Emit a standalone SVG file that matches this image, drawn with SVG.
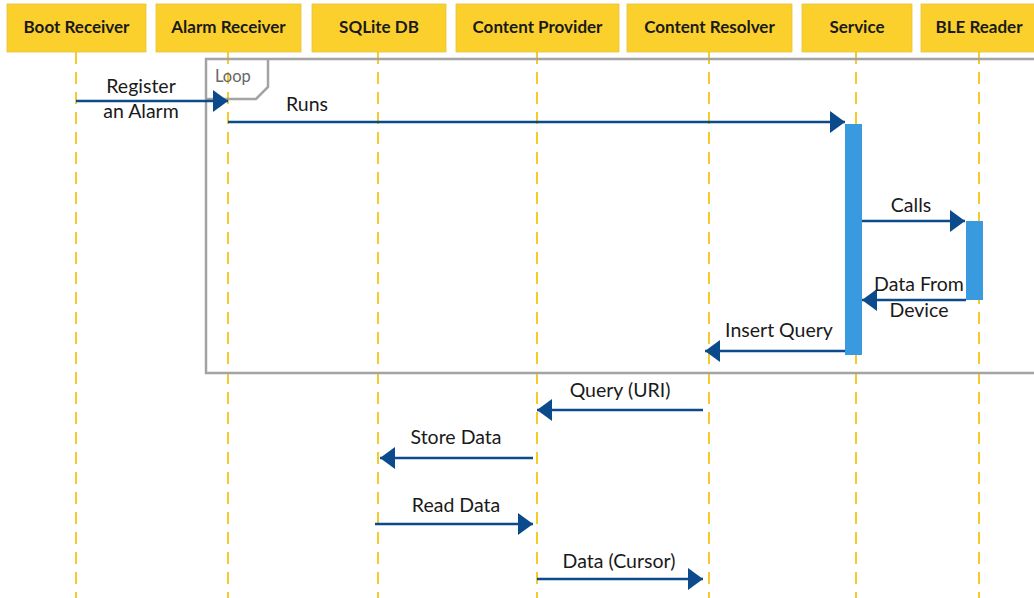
<svg xmlns="http://www.w3.org/2000/svg" width="1034" height="598" viewBox="0 0 1034 598">
<defs>
<style>
.hdr{fill:#FBD02D;stroke:#E6C23A;stroke-width:0.8}
.ht{font-family:Lato,"Liberation Sans",sans-serif;font-weight:bold;font-size:17px;fill:#1a1a1a;text-anchor:middle}
.life{stroke:#F5CA2A;stroke-width:2;stroke-dasharray:12 8;fill:none}
.msg{stroke:#0B4A8B;stroke-width:2.5;fill:none}
.ml{font-family:Lato,"Liberation Sans",sans-serif;font-size:19.5px;fill:#1a1a1a;text-anchor:middle}
.act{fill:#3A9AE0}
.frame{fill:none;stroke:#A3A3A3;stroke-width:2.5}
</style>
<marker id="ah" viewBox="0 0 15 22" refX="15" refY="11" markerWidth="15" markerHeight="22" markerUnits="userSpaceOnUse" orient="auto">
<path d="M0,0 L15,11 L0,22 Z" fill="#0B4A8B"/>
</marker>
</defs>
<rect width="1034" height="598" fill="#ffffff"/>

<g id="lifelines">
<line class="life" x1="76" y1="52" x2="76" y2="598"/>
<line class="life" x1="228" y1="52" x2="228" y2="598"/>
<line class="life" x1="378" y1="52" x2="378" y2="598"/>
<line class="life" x1="537" y1="52" x2="537" y2="598"/>
<line class="life" x1="709" y1="52" x2="709" y2="598"/>
<line class="life" x1="856" y1="52" x2="856" y2="598"/>
<line class="life" x1="979" y1="52" x2="979" y2="598"/>
</g>

<g id="loop">
<rect class="frame" x="206" y="59" width="840" height="314"/>
<path class="frame" d="M206,99 L256,99 L268,87 L268,59"/>
<text x="215" y="82" font-family="Lato,'Liberation Sans',sans-serif" font-size="16.5" fill="#666">Loop</text>
</g>

<g id="n-boot"><rect class="hdr" x="7" y="4" width="139" height="48"/><text class="ht" x="76.5" y="33">Boot Receiver</text></g>
<g id="n-alarm"><rect class="hdr" x="156" y="4" width="145" height="48"/><text class="ht" x="228.5" y="33">Alarm Receiver</text></g>
<g id="n-sqlite"><rect class="hdr" x="312" y="4" width="134" height="48"/><text class="ht" x="379" y="33">SQLite DB</text></g>
<g id="n-cp"><rect class="hdr" x="456" y="4" width="163" height="48"/><text class="ht" x="537.5" y="33">Content Provider</text></g>
<g id="n-cr"><rect class="hdr" x="627" y="4" width="165" height="48"/><text class="ht" x="709.5" y="33">Content Resolver</text></g>
<g id="n-service"><rect class="hdr" x="802" y="4" width="110" height="48"/><text class="ht" x="857" y="33">Service</text></g>
<g id="n-ble"><rect class="hdr" x="921" y="4" width="120" height="48"/><text class="ht" x="979" y="33">BLE Reader</text></g>

<g id="activations">
<rect class="act" x="845" y="124" width="17" height="231"/>
<rect class="act" x="966" y="221" width="17" height="79"/>
</g>

<g id="connectors">
<line class="msg" x1="76" y1="101" x2="228" y2="101" marker-end="url(#ah)"/>
<line class="msg" x1="228" y1="122" x2="845" y2="122" marker-end="url(#ah)"/>
<line class="msg" x1="862" y1="221" x2="965" y2="221" marker-end="url(#ah)"/>
<line class="msg" x1="966" y1="300" x2="862" y2="300" marker-end="url(#ah)"/>
<line class="msg" x1="845" y1="351" x2="705" y2="351" marker-end="url(#ah)"/>
<line class="msg" x1="703" y1="410" x2="537" y2="410" marker-end="url(#ah)"/>
<line class="msg" x1="533" y1="458" x2="380" y2="458" marker-end="url(#ah)"/>
<line class="msg" x1="375" y1="524" x2="533" y2="524" marker-end="url(#ah)"/>
<line class="msg" x1="537" y1="579" x2="703" y2="579" marker-end="url(#ah)"/>
</g>

<g id="labels">
<text class="ml" x="141" y="93">Register</text>
<text class="ml" x="141" y="118">an Alarm</text>
<text class="ml" x="307" y="111">Runs</text>
<text class="ml" x="911" y="212">Calls</text>
<text class="ml" x="919" y="291">Data From</text>
<text class="ml" x="919" y="317">Device</text>
<text class="ml" x="779" y="337">Insert Query</text>
<text class="ml" x="620" y="397">Query (URI)</text>
<text class="ml" x="456" y="444">Store Data</text>
<text class="ml" x="456" y="512">Read Data</text>
<text class="ml" x="619" y="568">Data (Cursor)</text>
</g>
</svg>
